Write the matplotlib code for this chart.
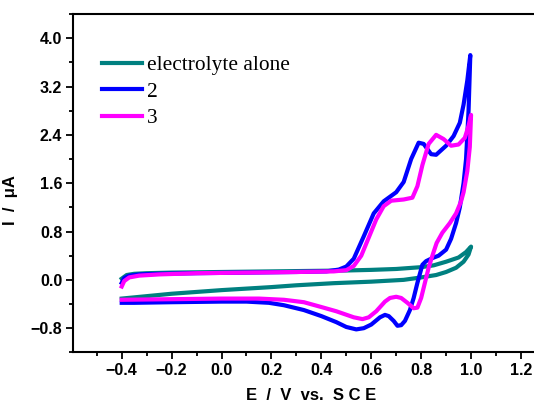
import matplotlib
matplotlib.use('Agg')
import matplotlib.pyplot as plt
from matplotlib.ticker import MultipleLocator

# electrolyte alone: forward scan then reverse scan (E / V, I / uA)
e_blank = [-0.40, -0.38, -0.35, -0.30, -0.20, 0.00, 0.20, 0.40, 0.50, 0.60, 0.70, 0.80,
           0.85, 0.90, 0.95, 0.98, 1.00,
           0.99, 0.97, 0.94, 0.90, 0.86, 0.80, 0.73, 0.60, 0.45, 0.30, 0.20, 0.10,
           0.00, -0.10, -0.20, -0.30, -0.40]
i_blank = [0.02, 0.08, 0.10, 0.11, 0.12, 0.13, 0.14, 0.15, 0.155, 0.165, 0.18, 0.21,
           0.24, 0.30, 0.37, 0.46, 0.55,
           0.42, 0.30, 0.20, 0.13, 0.08, 0.04, 0.00, -0.03, -0.055, -0.09, -0.12, -0.145,
           -0.17, -0.20, -0.23, -0.27, -0.31]

# compound 2
e_2 = [-0.40, -0.39, -0.37, -0.33, -0.25, -0.10, 0.10, 0.30, 0.42, 0.47, 0.50, 0.53,
       0.57, 0.61, 0.65, 0.70, 0.73, 0.76, 0.79, 0.81, 0.84, 0.86, 0.90, 0.93, 0.955,
       0.97, 0.985, 0.997,
       0.99, 0.98, 0.97, 0.955, 0.94, 0.92, 0.90, 0.87, 0.845, 0.82, 0.805, 0.795,
       0.785, 0.77, 0.755, 0.735, 0.72, 0.705, 0.69, 0.67, 0.655, 0.635, 0.60, 0.57,
       0.54, 0.50, 0.46, 0.40, 0.33, 0.25, 0.19, 0.10, 0.00, -0.20, -0.35, -0.40]
i_2 = [-0.05, 0.03, 0.07, 0.09, 0.10, 0.11, 0.12, 0.13, 0.14, 0.17, 0.22, 0.35,
       0.72, 1.10, 1.30, 1.45, 1.62, 2.00, 2.27, 2.25, 2.08, 2.07, 2.22, 2.38, 2.60,
       2.90, 3.30, 3.72,
       2.80, 2.00, 1.60, 1.20, 0.94, 0.68, 0.50, 0.40, 0.36, 0.31, 0.25, 0.10,
       -0.05, -0.30, -0.50, -0.68, -0.75, -0.76, -0.68, -0.60, -0.58, -0.62, -0.74, -0.80,
       -0.82, -0.78, -0.70, -0.60, -0.50, -0.42, -0.38, -0.36, -0.36, -0.37, -0.38, -0.38]

# compound 3
e_3 = [-0.40, -0.39, -0.37, -0.33, -0.25, -0.10, 0.10, 0.30, 0.45, 0.50, 0.53, 0.56,
       0.59, 0.62, 0.65, 0.68, 0.73, 0.765, 0.785, 0.805, 0.83, 0.86, 0.89, 0.92,
       0.95, 0.975, 0.99, 1.00,
       0.995, 0.985, 0.97, 0.96, 0.94, 0.915, 0.885, 0.862, 0.845, 0.83, 0.815, 0.80,
       0.785, 0.77, 0.745, 0.72, 0.70, 0.675, 0.655, 0.62, 0.59, 0.565, 0.53, 0.46,
       0.40, 0.33, 0.25, 0.15, 0.00, -0.20, -0.40]
i_3 = [-0.11, -0.02, 0.04, 0.07, 0.09, 0.11, 0.12, 0.13, 0.14, 0.16, 0.23, 0.40,
       0.70, 1.00, 1.22, 1.31, 1.33, 1.36, 1.55, 1.90, 2.25, 2.40, 2.33, 2.22,
       2.24, 2.35, 2.55, 2.73,
       2.20, 1.80, 1.45, 1.30, 1.10, 0.94, 0.78, 0.61, 0.40, 0.20, -0.05, -0.30,
       -0.46, -0.47, -0.38, -0.30, -0.28, -0.30, -0.36, -0.52, -0.62, -0.65, -0.62, -0.52,
       -0.45, -0.37, -0.33, -0.31, -0.31, -0.32, -0.33]

fig = plt.figure(figsize=(5.34, 4.05), dpi=100)
ax = fig.add_axes([0.1373, 0.130, 0.885, 0.8354])

ax.plot(e_blank, i_blank, color='#008080', lw=3, label='electrolyte alone')
ax.plot(e_2, i_2, color='#0000ff', lw=3, label='2')
ax.plot(e_3, i_3, color='#ff00ff', lw=3, label='3')

ax.set_xlim(-0.594, 1.3)
ax.set_ylim(-1.2, 4.4)
ax.xaxis.set_minor_locator(MultipleLocator(0.1))
ax.yaxis.set_minor_locator(MultipleLocator(0.4))
ax.set_xticks([-0.4, -0.2, 0.0, 0.2, 0.4, 0.6, 0.8, 1.0, 1.2])
ax.set_yticks([-0.8, 0.0, 0.8, 1.6, 2.4, 3.2, 4.0])

for s in ax.spines.values():
    s.set_linewidth(1.5)
ax.spines['right'].set_visible(False)
ax.tick_params(which='major', direction='out', length=5, width=1.3, pad=3)
ax.tick_params(which='minor', direction='out', length=3, width=1.3)
for lab in ax.get_xticklabels() + ax.get_yticklabels():
    lab.set_fontfamily('Liberation Sans')
    lab.set_fontweight('bold')
    lab.set_fontsize(11.5)

ax.set_xlabel('E  /  V  vs.  S C E', fontfamily='Liberation Sans', fontweight='bold', fontsize=12)
ax.set_ylabel('I  /  \u03bcA', fontfamily='Liberation Sans', fontweight='bold', fontsize=12)
ax.xaxis.set_label_coords(0.504, -0.105)
ax.yaxis.set_label_coords(-0.117, 0.45)

ax.legend(loc='upper left', bbox_to_anchor=(0.06, 0.878), frameon=False,
          prop={'family': 'Liberation Serif', 'size': 15.4},
          handlelength=1.9, handletextpad=0.2, labelspacing=0.3,
          borderpad=0, borderaxespad=0)

plt.savefig('out.png', dpi=100)
